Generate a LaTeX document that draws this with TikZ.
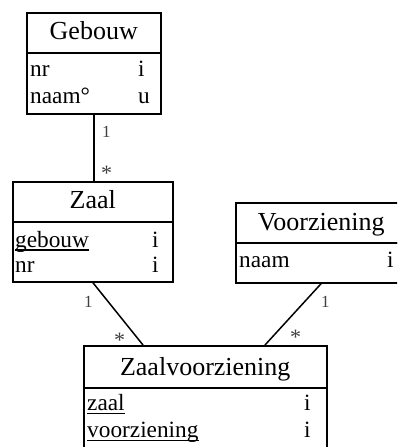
\documentclass[tikz,border=0pt]{standalone}
\usepackage{fontspec}
\setmainfont{Liberation Serif}
\begin{document}
\begin{tikzpicture}[x=1pt,y=-1pt,
  box/.style={draw, line width=1.5pt, inner sep=0pt, anchor=north west},
  hdr/.style={font=\fontsize{26}{31}\selectfont, inner sep=0pt, anchor=base},
  attr/.style={font=\fontsize{23.3}{28}\selectfont, inner sep=0pt, anchor=base west},
  mult/.style={font=\fontsize{17}{20}\selectfont, text=black!75, inner sep=0pt, anchor=base west},
  many/.style={font=\fontsize{22}{26}\selectfont, text=black!75, inner sep=0pt, anchor=base west},
  assoc/.style={line width=1.5pt},
  keyline/.style={line width=1.2pt}]
\useasboundingbox (0,0) rectangle (397,447);
\clip (0,0) rectangle (397,447);

% Gebouw
\node[box, minimum width=134pt, minimum height=40pt] (gH) at (26,12) {};
\node[box, minimum width=134pt, minimum height=61pt] (gB) at (26,52) {};
\node[hdr] (gT) at ([yshift=-7pt]gH.center) {Gebouw};
\node[attr] (gA1) at (30,76) {nr};
\node[attr] (gA2) at (30,103) {naam°};
\node[attr] (gC1) at (138,76) {i};
\node[attr] (gC2) at (138,103) {u};

% Zaal
\node[box, minimum width=160pt, minimum height=40pt] (zH) at (12,181) {};
\node[box, minimum width=160pt, minimum height=60pt] (zB) at (12,221) {};
\node[hdr] (zT) at ([yshift=-7pt]zH.center) {Zaal};
\node[attr] (zA1) at (15,247) {gebouw};
\node[attr] (zA2) at (15,272) {nr};
\node[attr] (zC1) at (152,247) {i};
\node[attr] (zC2) at (152,272) {i};
\draw[keyline] ([yshift=-3pt]zA1.base west) -- ([yshift=-3pt]zA1.base east);

% Voorziening
\node[box, minimum width=171pt, minimum height=40pt] (vH) at (235,202) {};
\node[box, minimum width=171pt, minimum height=40pt] (vB) at (235,242) {};
\node[hdr] (vT) at ([yshift=-8pt]vH.center) {Voorziening};
\node[attr] (vA1) at (239,267) {naam};
\node[attr] (vC1) at (387,267) {i};

% Zaalvoorziening
\node[box, minimum width=243pt, minimum height=42pt] (zvH) at (83,345) {};
\node[box, minimum width=243pt, minimum height=80pt] (zvB) at (83,387) {};
\node[hdr] (zvT) at ([yshift=-9pt]zvH.center) {Zaalvoorziening};
\node[attr] (zvA1) at (87,410) {zaal};
\node[attr] (zvA2) at (87,437) {voorziening};
\node[attr] (zvC1) at (304,410) {i};
\node[attr] (zvC2) at (304,437) {i};
\draw[keyline] ([yshift=-3.5pt]zvA1.base west) -- ([yshift=-3.5pt]zvA1.base east);
\draw[keyline] ([yshift=-3.5pt]zvA2.base west) -- ([yshift=-3.5pt]zvA2.base east);

% associations with multiplicities
\draw[assoc] (gB.south) -- (gB.south |- zH.north);
\node[mult] (m1) at (102,137) {1};
\node[many] (m2) at (101,180) {*};

\draw[assoc] (zB.south) -- ([xshift=60pt]zvH.north west);
\node[mult] (m3) at (84,307) {1};
\node[many] (m4) at (114,347) {*};

\draw[assoc] (vB.south) -- ([xshift=182pt]zvH.north west);
\node[mult] (m5) at (321,307) {1};
\node[many] (m6) at (290,344) {*};
\end{tikzpicture}
\end{document}
